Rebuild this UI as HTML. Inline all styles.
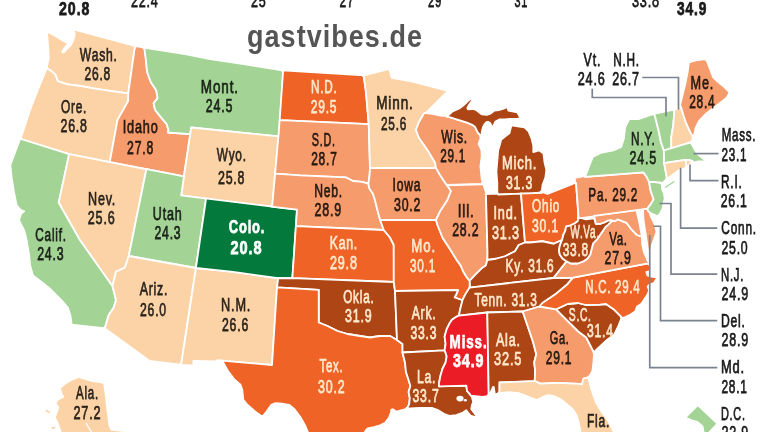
<!DOCTYPE html>
<html><head><meta charset="utf-8"><style>
html,body{margin:0;padding:0;background:#fff;width:768px;height:432px;overflow:hidden}
svg{display:block}
.st polygon{stroke:#fff;stroke-width:1.8;stroke-linejoin:round}
.ld{fill:none;stroke:#7b8390;stroke-width:1.7}
text{font-family:"Liberation Sans",Arial,sans-serif;font-size:18.5px;stroke-width:0.75px;letter-spacing:1.2px}
.wm{font-family:"Liberation Sans",Arial,sans-serif;font-weight:bold;fill:#555555}
</style></head><body>
<svg width="768" height="432" viewBox="0 0 768 432">
<rect width="768" height="432" fill="#fff"/>
<g class="st">
<polygon points="46.86,31.63 48.10,45.46 48.79,58.32 46.24,69.60 46.96,69.84 47.30,69.00 49.70,69.80 55.40,74.60 57.80,81.10 67.60,84.30 80.50,86.00 93.50,88.40 109.70,90.80 128.30,93.30 134.40,50.00 135.44,46.96 136.35,47.12 136.64,46.28 72.59,29.01 72.20,29.61 74.60,32.62 74.60,35.27 73.06,40.68 70.86,45.16 66.96,48.96 64.01,52.02 62.67,52.46 62.30,51.36 68.13,43.39 60.17,39.03 54.65,35.42" fill="#fcd3a6"/>
<polygon points="37.91,89.67 30.15,109.70 21.67,135.66 19.72,139.54 20.68,139.84 21.00,139.00 69.12,154.12 109.77,162.08 117.50,120.00 127.74,102.61 128.30,93.30 109.70,90.80 93.50,88.40 80.50,86.00 67.60,84.30 57.80,81.10 55.40,74.60 49.70,69.80 47.30,69.00 47.50,68.12 46.78,67.88" fill="#fcd3a6"/>
<polygon points="10.33,164.88 11.61,177.62 14.11,192.66 16.66,205.41 20.47,209.76 24.18,211.24 21.24,213.45 19.03,220.07 24.15,230.31 26.62,240.18 29.11,255.12 30.11,265.17 32.96,275.54 43.20,283.21 49.40,288.17 61.83,300.61 67.95,307.95 70.37,315.21 71.71,324.56 105.65,328.48 105.77,328.06 105.00,327.50 108.75,315.00 113.75,307.50 116.00,300.00 112.50,286.00 80.00,240.00 58.75,202.50 69.14,154.12 21.00,139.00 21.41,138.18 20.46,137.89" fill="#a3d496"/>
<polygon points="183.86,177.22 191.25,127.50 190.07,134.15 168.00,132.50 168.50,130.00 166.70,124.20 160.20,116.40 155.00,109.80 153.60,103.30 157.60,98.10 156.25,90.30 151.00,82.50 147.10,72.00 145.80,59.00 144.50,48.60 145.43,48.75 145.31,47.83 134.83,45.93 134.59,46.66 135.48,46.90 134.40,50.00 128.30,93.30 128.21,101.00 117.50,120.00 109.77,162.08 146.35,169.25 183.86,176.31 183.74,177.20" fill="#f59b6c"/>
<polygon points="143.57,48.43 144.50,48.60 145.80,59.00 147.10,72.00 151.00,82.50 156.25,90.30 157.60,98.10 153.60,103.30 155.00,109.80 160.20,116.40 166.70,124.20 168.50,130.00 168.00,132.50 190.07,134.15 191.25,127.50 278.41,136.32 278.33,137.21 278.56,137.23 280.12,120.19 280.55,120.18 280.12,120.16 283.12,71.28 284.02,71.33 284.08,70.52 235.14,62.86 210.16,59.11 185.16,54.11 143.46,47.52" fill="#a3d496"/>
<polygon points="206.00,199.38 206.04,199.06 273.06,206.83 272.17,206.71 275.20,173.56 276.01,173.62 275.23,173.56 278.72,135.44 278.57,135.43 278.50,136.32 191.25,127.50 183.86,176.31 181.20,195.39 206.05,198.94" fill="#fcd3a6"/>
<polygon points="68.26,153.84 69.12,154.12 58.75,202.50 80.00,240.00 112.50,286.00 116.00,271.50 120.00,270.00 125.00,267.50 128.75,256.00 146.35,169.25 147.24,169.42 147.26,169.32 109.75,162.17 69.37,154.19" fill="#fcd3a6"/>
<polygon points="145.47,169.08 146.35,169.25 128.75,256.00 195.90,268.00 195.84,268.41 195.90,268.00 206.04,199.06 206.93,199.16 207.01,198.59 181.16,195.38 184.12,175.44 184.00,175.41 183.86,176.31 145.49,168.98" fill="#a3d496"/>
<polygon points="103.95,327.85 149.66,360.86 182.01,365.00 182.15,364.04 181.25,364.00 195.90,268.00 128.75,256.00 125.00,267.50 120.00,270.00 116.00,271.50 112.50,286.00 116.00,300.00 113.75,307.50 108.75,315.00 105.00,327.50 104.09,327.40" fill="#fcd3a6"/>
<polygon points="195.01,267.84 195.90,268.00 192.58,290.01 181.25,364.00 180.36,363.89 180.21,364.85 193.40,365.44 193.40,360.91 218.45,361.30 223.93,361.77 223.50,360.99 218.50,360.40 272.00,365.00 277.01,287.36 277.92,287.42 277.03,287.34 278.20,278.26 279.10,278.25 278.19,278.26 233.00,271.90 195.90,268.00" fill="#fcd3a6"/>
<polygon points="205.17,198.82 206.05,198.94 195.90,268.00 233.00,271.90 278.19,278.26 278.08,279.15 278.20,278.26 292.36,278.19 295.95,226.16 297.00,209.60 272.17,206.71 272.25,205.83 272.17,206.70 205.24,198.37" fill="#037a3c"/>
<polygon points="282.23,71.14 283.12,71.28 279.59,121.03 280.04,121.05 280.12,120.19 368.73,124.15 366.00,92.50 363.75,76.25 364.63,76.03 364.54,75.40 282.28,70.32" fill="#ef6426"/>
<polygon points="277.74,136.25 278.41,136.32 275.03,174.45 275.11,174.45 275.20,173.56 300.00,175.30 345.60,177.30 352.90,181.00 362.00,181.80 368.40,183.70 369.50,176.00 370.00,168.17 370.90,168.16 370.00,168.16 368.73,124.12 368.66,123.24 368.73,124.10 280.12,120.16 280.17,119.29 279.71,119.27 278.50,136.32" fill="#f59b6c"/>
<polygon points="271.27,206.62 297.00,209.60 295.82,227.05 295.89,227.06 295.95,226.16 383.75,230.00 380.18,219.95 378.40,213.80 374.70,199.20 372.90,193.70 369.30,188.20 368.40,183.70 362.00,181.80 352.90,181.00 345.60,177.30 300.00,175.30 275.23,173.56 275.31,172.67 275.19,172.66 272.17,206.70" fill="#f59b6c"/>
<polygon points="291.45,278.19 393.79,281.99 393.75,245.00 390.00,237.50 383.75,230.00 295.95,226.16 296.01,225.26 295.94,225.26 292.35,278.18" fill="#ef6426"/>
<polygon points="292.42,277.29 292.35,278.18 278.19,278.26 277.02,287.36 318.73,290.00 318.75,322.50 327.50,326.00 337.50,331.00 347.50,334.00 360.00,336.00 370.00,337.50 380.00,336.00 390.00,336.00 397.00,340.00 395.00,291.00 393.79,281.99 292.36,278.19" fill="#ae4514"/>
<polygon points="216.62,361.09 222.94,361.83 228.24,371.39 234.04,379.12 240.52,384.72 242.32,390.09 243.33,399.76 247.35,404.72 255.04,411.51 262.37,416.72 266.72,411.34 271.33,404.84 275.63,403.12 281.98,403.69 289.31,404.95 294.74,409.52 300.35,416.99 305.09,425.39 307.81,432.19 308.13,440.90 363.79,440.90 364.87,432.26 366.02,429.89 368.08,428.34 373.92,427.17 380.03,425.34 385.09,422.81 388.89,417.74 390.88,412.73 391.31,409.63 392.83,409.27 396.44,411.68 407.57,408.62 408.07,408.37 408.43,407.65 407.40,407.70 409.20,404.10 409.80,398.00 408.60,392.00 410.40,386.00 408.60,380.00 406.00,372.00 405.00,362.50 402.50,352.50 402.50,344.00 397.00,340.00 390.00,336.00 380.00,336.00 370.00,337.50 360.00,336.00 347.50,334.00 337.50,331.00 327.50,326.00 318.75,322.50 318.72,289.97 277.03,287.34 277.14,286.46 277.01,287.48 272.00,365.00 218.50,360.40 216.69,360.37" fill="#ef6426"/>
<polygon points="362.83,76.19 363.75,76.25 366.00,92.50 368.73,124.10 367.83,124.06 368.74,124.15 370.00,168.17 435.97,167.84 435.00,162.50 427.50,150.00 418.75,137.50 416.00,130.00 418.75,122.50 423.75,113.75 424.88,113.89 447.98,90.77 412.69,81.62 391.73,77.96 389.40,68.91 362.75,75.57" fill="#fcd3a6"/>
<polygon points="435.80,166.94 435.96,167.84 370.00,168.16 369.50,176.00 368.40,183.70 369.30,188.20 372.90,193.70 374.70,199.20 378.40,213.80 380.20,219.95 436.00,220.00 439.76,211.89 447.50,200.00 451.00,191.00 447.08,185.09 445.00,182.50 440.00,175.00 435.97,167.84" fill="#f59b6c"/>
<polygon points="380.20,219.96 383.75,230.00 390.00,237.50 393.75,245.00 393.79,282.00 395.00,291.00 458.00,290.20 456.70,293.30 454.60,297.50 462.49,300.27 462.45,300.42 464.33,296.11 469.18,288.21 469.63,287.63 469.73,281.22 469.82,280.64 469.71,280.75 468.68,279.71 466.40,276.70 463.00,271.00 460.80,265.60 456.70,260.00 450.44,249.77 443.41,239.34 437.50,225.00 436.00,220.00" fill="#ef6426"/>
<polygon points="462.76,299.41 462.49,300.27 454.60,297.50 456.70,293.30 458.00,290.20 395.00,291.00 397.00,340.00 402.50,344.00 402.50,352.50 444.63,350.45 444.60,350.00 445.60,343.75 444.60,336.50 446.70,329.20 449.80,322.90 451.90,319.80 458.19,315.80 458.97,315.54 459.68,311.45 462.34,300.67 462.87,299.45" fill="#ae4514"/>
<polygon points="405.91,408.68 419.52,408.00 432.44,408.00 437.41,409.81 443.91,413.81 449.38,415.81 456.21,415.18 462.92,412.50 466.21,410.31 470.47,415.68 476.78,417.51 477.17,416.95 471.25,408.88 471.87,405.45 473.25,401.95 471.26,394.80 470.30,394.70 467.00,390.80 466.40,385.60 439.00,386.30 439.00,382.40 439.40,381.25 440.40,376.00 442.50,368.75 445.60,362.50 446.70,356.25 444.60,350.00 444.63,350.45 402.50,352.50 405.00,362.50 406.00,372.00 408.60,380.00 410.40,386.00 408.60,392.00 409.80,398.00 409.20,404.10 407.40,407.70 406.21,408.06" fill="#ae4514"/>
<polygon points="435.05,167.84 435.97,167.84 440.00,175.00 445.00,182.50 447.56,186.12 447.76,186.12 446.96,184.91 482.14,183.83 482.65,185.34 483.53,185.33 481.69,179.03 480.41,166.41 481.70,156.24 481.39,149.77 478.48,143.95 479.85,140.30 481.52,135.41 480.64,134.37 480.50,135.60 477.70,132.30 475.00,126.80 471.70,124.60 466.30,122.40 448.07,116.73 448.85,116.02 448.73,115.98 440.12,115.51 433.90,114.11 424.56,112.94 423.75,113.75 418.75,122.50 416.00,130.00 418.75,137.50 427.50,150.00 435.00,162.50 435.96,167.84" fill="#f59b6c"/>
<polygon points="480.83,137.38 481.22,137.26 481.89,131.36 482.95,127.12 484.53,124.05 486.46,122.20 487.98,121.77 490.21,123.04 492.37,127.50 492.68,127.50 495.39,121.46 499.31,119.50 504.64,119.50 510.04,119.00 516.70,119.00 520.80,118.09 518.96,115.42 517.17,112.28 513.46,111.71 508.49,110.72 507.22,106.91 504.26,108.46 498.91,110.12 494.34,110.64 490.94,113.41 486.88,114.98 481.95,114.43 476.53,110.19 472.91,108.99 467.93,109.45 467.30,108.19 468.67,105.37 474.02,98.08 473.14,97.19 467.82,101.01 463.51,105.32 459.25,108.51 452.60,111.33 446.70,116.77 448.57,116.87 466.30,122.40 471.70,124.60 475.00,126.80 477.70,132.30 480.50,135.60 480.16,136.59" fill="#ae4514"/>
<polygon points="509.41,133.17 505.95,135.79 501.10,139.69 500.13,143.67 498.21,150.23 496.40,171.70 497.30,182.84 497.33,194.57 532.51,193.29 540.67,192.34 543.67,193.50 543.81,192.76 541.69,191.83 542.58,184.92 545.38,177.52 546.31,169.85 544.49,162.24 543.45,153.61 539.06,150.29 535.84,151.44 533.30,152.05 533.30,145.69 531.46,138.11 528.56,131.39 524.52,127.35 517.74,126.41 511.44,125.26" fill="#ae4514"/>
<polygon points="488.30,259.86 487.40,259.99 487.50,252.50 486.00,195.00 486.90,194.97 486.89,194.46 486.60,194.30 482.79,182.91 481.89,182.94 482.33,184.45 447.19,185.23 446.23,184.03 446.08,184.04 451.00,191.00 447.50,200.00 440.61,210.39 436.00,220.00 437.50,225.00 442.44,237.50 449.30,248.02 456.70,260.00 460.80,265.60 463.00,271.00 466.40,276.70 469.17,280.21 469.81,280.71 474.70,275.30 481.70,268.30 485.80,265.60 487.40,259.99" fill="#f59b6c"/>
<polygon points="521.90,193.64 498.23,194.48 498.23,193.64 485.59,194.11 485.86,194.92 486.00,195.00 487.50,252.50 487.40,259.99 496.00,258.75 505.00,256.25 515.00,251.25 518.75,245.00 525.00,242.50 521.00,193.69" fill="#ae4514"/>
<polygon points="520.10,193.70 521.00,193.69 525.00,242.50 530.00,242.50 542.50,241.25 553.75,243.75 561.94,240.06 562.45,238.82 563.20,235.00 565.30,230.80 566.00,226.70 570.80,225.30 575.00,223.20 577.80,221.10 578.37,215.42 575.98,181.98 572.11,184.19 547.50,194.03 540.83,191.43 540.71,192.38 541.95,192.92" fill="#ef6426"/>
<polygon points="487.41,259.08 487.40,259.99 485.80,265.60 481.70,268.30 474.70,275.30 469.77,280.68 470.03,287.08 469.63,287.62 553.50,278.00 566.70,261.40 562.50,258.60 559.70,254.40 559.00,250.30 559.70,246.10 561.94,240.06 553.75,243.75 542.50,241.25 530.00,242.50 525.00,242.50 518.75,245.00 515.00,251.25 505.00,256.25 496.00,258.75 487.40,259.99" fill="#ae4514"/>
<polygon points="522.70,311.50 539.40,306.50 542.50,303.00 555.00,294.60 567.50,284.20 573.00,277.60 553.50,278.00 469.63,287.62 469.08,288.37 465.52,294.02 462.68,299.57 459.99,309.99 458.96,315.54 487.30,312.50" fill="#ae4514"/>
<polygon points="482.52,396.91 489.66,395.77 489.61,392.48 488.91,394.05 488.75,395.00 487.30,312.50 458.97,315.54 459.06,314.98 458.96,315.56 455.96,316.93 451.90,319.80 449.80,322.90 446.70,329.20 444.60,336.50 445.60,343.75 444.60,350.00 446.70,356.25 445.60,362.50 442.50,368.75 440.40,376.00 439.40,381.25 439.00,382.40 439.00,386.30 466.40,385.60 467.00,390.80 470.30,394.70 470.56,395.63" fill="#ec1c27"/>
<polygon points="487.88,396.74 489.36,396.85 489.78,394.31 493.08,386.90 493.73,386.90 494.86,394.32 500.40,392.91 500.40,392.11 499.50,392.20 499.51,382.50 534.71,381.04 535.20,370.80 534.20,362.50 536.25,354.20 533.00,341.70 522.70,311.50 487.30,312.50 488.75,395.00 487.85,395.14" fill="#ae4514"/>
<polygon points="533.80,381.08 534.73,381.04 540.49,383.67 558.07,382.80 580.00,383.89 581.81,384.58 583.50,378.60 587.40,377.60 587.62,378.47 587.98,378.38 592.37,371.10 593.40,362.59 594.28,351.18 594.03,350.69 593.35,351.33 586.25,337.50 578.00,331.25 563.30,316.70 556.21,309.56 556.21,309.29 556.20,309.45 539.40,306.50 522.70,311.50 533.00,341.70 536.25,354.20 534.20,362.50 535.20,370.80 534.70,381.03" fill="#f59b6c"/>
<polygon points="498.60,393.19 509.30,392.15 518.79,393.08 528.48,396.94 536.65,399.98 542.84,396.94 548.47,395.12 553.92,396.07 561.50,399.76 567.32,404.69 573.05,409.39 576.86,416.05 578.73,422.71 580.70,432.12 581.14,440.90 615.05,440.90 613.67,431.72 607.77,420.02 601.85,412.19 596.02,402.61 591.16,389.04 588.06,376.51 587.40,377.60 583.50,378.60 581.85,384.46 579.55,383.81 558.10,382.80 540.28,383.63 534.70,381.03 499.51,382.48 499.50,392.21 498.60,392.44" fill="#fcd3a6"/>
<polygon points="605.58,341.09 614.01,334.79 618.32,326.17 622.07,316.70 621.10,316.70 613.60,309.20 606.00,304.00 600.00,304.70 586.00,305.00 578.00,303.00 567.50,304.00 556.21,309.29 556.20,309.45 563.30,316.70 578.00,331.25 586.25,337.50 593.37,351.36 593.27,352.63" fill="#ae4514"/>
<polygon points="624.31,317.60 630.55,314.48 635.36,311.28 636.85,306.78 641.35,303.85 647.50,294.62 649.17,290.40 647.71,286.71 648.80,285.12 654.13,282.81 657.14,277.61 651.41,276.72 647.41,275.39 646.33,272.15 650.75,270.58 648.89,262.25 648.01,262.42 648.20,263.30 573.00,277.60 567.50,284.20 555.00,294.60 542.50,303.00 539.40,306.50 556.21,309.47 556.21,309.29 567.50,304.00 578.00,303.00 586.00,305.00 600.00,304.70 606.00,304.00 613.60,309.20 621.10,316.70 620.74,317.60" fill="#ef6426"/>
<polygon points="649.28,264.01 647.81,257.52 647.30,259.20 642.10,236.70 636.90,235.00 631.70,229.70 626.50,222.80 617.80,219.30 615.30,221.10 614.39,221.15 613.43,220.81 612.27,220.63 608.30,224.60 605.60,226.70 597.20,239.20 593.10,243.30 590.30,254.40 587.50,258.60 583.30,261.40 577.80,263.50 570.80,263.50 566.70,261.40 553.50,278.00 573.00,277.60 648.20,263.30 648.40,264.18" fill="#f59b6c"/>
<polygon points="594.91,215.40 593.13,215.63 593.51,218.28 586.16,219.48 579.45,217.54 579.44,217.40 578.52,217.52 578.37,215.42 577.80,221.10 575.00,223.20 570.80,225.30 566.00,226.70 565.30,230.80 563.20,235.00 562.15,239.96 561.80,240.40 559.70,246.10 559.00,250.30 559.70,254.40 562.50,258.60 566.70,261.40 570.80,263.50 577.80,263.50 583.30,261.40 587.50,258.60 590.30,254.40 593.10,243.30 597.20,239.20 605.60,226.70 608.30,224.60 612.27,220.63 613.43,220.81 611.49,220.11 608.30,220.40 604.20,222.50 600.00,223.90 595.80,223.90 594.06,215.71 594.27,215.94 595.00,215.84" fill="#ae4514"/>
<polygon points="593.87,219.14 594.53,219.03 594.06,215.71 595.80,223.90 600.00,223.90 604.20,222.50 608.30,220.40 611.49,220.11 613.43,220.81 615.30,221.10 617.80,219.30 626.50,222.80 631.70,229.70 636.90,235.00 642.10,236.70 645.51,251.93 647.69,260.99 650.37,252.23 651.87,245.24 656.54,231.74 654.55,223.99 650.84,216.46 648.96,210.65 647.76,209.87 647.54,208.47 647.47,208.58 593.12,215.63" fill="#f59b6c"/>
<polygon points="636.50,210.80 643.00,210.50 643.50,220.00 645.00,230.00 646.50,240.00 648.00,250.00 649.50,259.00 647.30,259.50 643.90,252.30 642.10,243.60 642.10,236.70 641.00,232.00 640.00,226.00 638.60,219.30" fill="#fff" stroke="none"/>
<polygon points="575.19,183.47 576.05,182.98 578.41,214.93 578.56,217.74 578.48,218.19 579.05,218.36 594.15,216.40 594.06,215.71 594.27,215.94 647.47,208.58 647.70,209.45 647.51,208.22 651.86,202.56 653.66,198.94 651.77,194.14 650.04,188.53 649.13,181.65 650.05,181.71 649.12,181.64 646.29,176.36 643.50,172.40 585.97,176.88 586.33,175.95 584.28,176.11 574.80,177.97" fill="#f59b6c"/>
<polygon points="652.25,213.88 657.28,216.40 660.03,213.64 662.46,209.00 663.58,203.30 664.71,198.75 664.08,193.97 661.90,188.52 661.74,182.28 661.18,182.73 659.89,182.50 649.12,181.64 648.62,180.71 648.55,180.70 649.17,181.91 650.52,190.55 653.65,199.26 650.19,204.93 647.47,208.58 647.76,209.85 648.20,211.23" fill="#a3d496"/>
<polygon points="661.43,183.69 667.89,178.45 667.71,177.43 666.90,178.02 664.09,163.15 664.99,163.01 664.10,163.15 663.89,150.48 663.83,150.49 660.80,141.70 658.75,131.25 654.60,114.60 655.48,114.41 655.24,113.44 638.35,119.10 629.19,119.10 625.12,127.24 623.87,138.56 621.26,146.84 613.23,150.39 600.71,152.89 592.79,156.85 584.97,176.96 643.50,172.40 646.46,176.63 649.15,181.88 649.13,181.65 659.90,182.50 660.85,182.66 660.87,183.59" fill="#a3d496"/>
<polyline points="665.00,187.50 674.40,181.50" fill="none" stroke="#a3d496" stroke-width="1.4"/>
<polygon points="653.74,114.89 654.60,114.60 658.75,131.25 660.80,141.70 663.83,150.49 671.25,148.30 671.25,137.50 673.30,125.00 674.40,110.40 675.32,110.19 675.39,109.27 653.50,113.91" fill="#a3d496"/>
<polygon points="673.48,110.59 674.40,110.40 673.30,125.00 671.25,137.50 671.25,148.30 690.00,142.70 689.73,142.85 690.20,143.58 690.64,143.45 693.97,136.45 693.19,135.25 692.93,136.51 690.80,133.25 687.62,126.82 680.60,107.10 681.13,104.81 677.81,108.69 673.55,109.67" fill="#fcd3a6"/>
<polygon points="687.61,72.35 685.12,84.80 681.38,99.79 679.66,107.15 679.85,107.69 680.96,106.40 683.21,114.57 686.04,122.95 690.80,133.25 692.94,136.52 692.48,137.47 693.04,138.32 693.50,138.23 695.61,127.80 699.24,120.53 706.59,113.18 716.55,105.71 726.70,97.59 729.62,92.34 724.10,86.83 717.85,81.83 713.02,77.00 706.77,60.75 705.07,59.05 695.81,60.37 688.94,62.29" fill="#f59b6c"/>
<polygon points="685.58,160.83 685.37,159.91 689.89,160.27 691.40,160.76 690.85,161.43 695.04,162.44 698.45,161.30 706.24,161.30 706.47,160.29 702.99,158.64 696.72,153.43 693.78,147.56 691.01,143.18 691.94,142.67 691.39,141.35 690.52,141.61 690.00,142.70 663.89,150.48 664.10,163.15 685.33,159.92" fill="#a3d496"/>
<polygon points="666.27,179.59 680.00,169.57 687.97,167.33 687.54,165.47 686.93,166.22 686.90,166.70 685.37,159.91 664.10,163.15 666.91,178.09 666.12,178.73" fill="#fcd3a6"/>
<polygon points="684.48,160.05 685.33,159.92 686.90,166.70 686.03,166.94 686.39,168.55 687.70,168.44 687.81,166.56 692.46,160.89 690.15,160.34 685.30,159.90" fill="#fcd3a6"/>
<polygon points="71.21,379.99 66.08,382.86 59.75,388.42 61.47,393.35 63.20,396.89 58.11,399.39 55.39,402.97 58.41,407.44 57.15,411.30 54.82,417.35 57.86,423.44 60.69,432.11 60.03,440.90 131.56,440.90 131.59,440.85 125.53,431.14 114.12,430.11 110.97,429.51 109.08,424.30 108.39,417.20 106.89,405.79 105.49,392.89 103.99,382.82 90.51,380.62 78.76,376.95" fill="#fcd3a6"/>
<polygon points="685.23,417.60 692.31,420.66 697.09,421.83 702.48,426.10 703.84,433.90 707.89,433.90 717.47,423.56 697.78,405.05" fill="#a3d496"/>
<ellipse cx="48" cy="411.5" rx="2.6" ry="1" transform="rotate(30 48 411.5)" fill="#fcd3a6" stroke="none"/>
<ellipse cx="53.5" cy="427.8" rx="2.2" ry="1" fill="#fcd3a6" stroke="none"/>
<polyline points="86,423 89,428 91.5,432" fill="none" stroke="#fff" stroke-width="1.3"/>
<ellipse cx="460" cy="398.6" rx="3.6" ry="2.8" fill="#fff" stroke="none"/>
<ellipse cx="465.3" cy="400.2" rx="1.6" ry="1.3" fill="#fff" stroke="none"/>
<polyline points="592.25,88.75 592.25,97.50 666.00,97.50 666.00,116.25" class="ld"/>
<polyline points="642.25,77.50 678.50,77.50 678.50,109.40" class="ld"/>
<polyline points="693.50,153.60 718.50,153.60" class="ld"/>
<polyline points="690.00,164.60 690.00,180.70 718.50,180.70" class="ld"/>
<polyline points="680.60,167.70 680.60,228.20 717.25,228.20" class="ld"/>
<polyline points="659.50,203.50 671.00,203.50 671.00,274.20 717.25,274.20" class="ld"/>
<polyline points="653.50,226.25 660.50,226.25 660.50,320.60 717.25,320.60" class="ld"/>
<polyline points="649.75,235.00 649.75,367.60 717.25,367.60" class="ld"/>
</g>
<g>
<text x="79.84" y="60.54" textLength="37.89" lengthAdjust="spacingAndGlyphs" fill="#000" stroke="#000" opacity="0.84">Wash.</text>
<text x="84.49" y="79.54" textLength="26.56" lengthAdjust="spacingAndGlyphs" fill="#000" stroke="#000" opacity="0.84">26.8</text>
<text x="60.94" y="112.54" textLength="26.26" lengthAdjust="spacingAndGlyphs" fill="#000" stroke="#000" opacity="0.84">Ore.</text>
<text x="60.48" y="131.54" textLength="27.35" lengthAdjust="spacingAndGlyphs" fill="#000" stroke="#000" opacity="0.84">26.8</text>
<text x="122.64" y="133.04" textLength="35.92" lengthAdjust="spacingAndGlyphs" fill="#000" stroke="#000" opacity="0.84">Idaho</text>
<text x="127.05" y="153.54" textLength="26.95" lengthAdjust="spacingAndGlyphs" fill="#000" stroke="#000" opacity="0.84">27.8</text>
<text x="200.87" y="92.54" textLength="38.07" lengthAdjust="spacingAndGlyphs" fill="#000" stroke="#000" opacity="0.84">Mont.</text>
<text x="205.77" y="111.54" textLength="27.50" lengthAdjust="spacingAndGlyphs" fill="#000" stroke="#000" opacity="0.84">24.5</text>
<text x="311.00" y="92.54" textLength="26.50" lengthAdjust="spacingAndGlyphs" fill="#fde8cc" stroke="#fde8cc">N.D.</text>
<text x="310.79" y="113.04" textLength="26.46" lengthAdjust="spacingAndGlyphs" fill="#fde8cc" stroke="#fde8cc">29.5</text>
<text x="376.22" y="109.04" textLength="37.45" lengthAdjust="spacingAndGlyphs" fill="#000" stroke="#000" opacity="0.84">Minn.</text>
<text x="381.05" y="129.54" textLength="26.02" lengthAdjust="spacingAndGlyphs" fill="#000" stroke="#000" opacity="0.84">25.6</text>
<text x="311.83" y="145.54" textLength="23.75" lengthAdjust="spacingAndGlyphs" fill="#000" stroke="#000" opacity="0.84">S.D.</text>
<text x="311.19" y="165.04" textLength="26.40" lengthAdjust="spacingAndGlyphs" fill="#000" stroke="#000" opacity="0.84">28.7</text>
<text x="216.84" y="160.94" textLength="29.91" lengthAdjust="spacingAndGlyphs" fill="#000" stroke="#000" opacity="0.84">Wyo.</text>
<text x="217.96" y="184.04" textLength="27.37" lengthAdjust="spacingAndGlyphs" fill="#000" stroke="#000" opacity="0.84">25.8</text>
<text x="314.19" y="196.54" textLength="28.79" lengthAdjust="spacingAndGlyphs" fill="#000" stroke="#000" opacity="0.84">Neb.</text>
<text x="314.47" y="215.54" textLength="27.45" lengthAdjust="spacingAndGlyphs" fill="#000" stroke="#000" opacity="0.84">28.9</text>
<text x="88.01" y="204.54" textLength="28.17" lengthAdjust="spacingAndGlyphs" fill="#000" stroke="#000" opacity="0.84">Nev.</text>
<text x="87.82" y="223.54" textLength="27.68" lengthAdjust="spacingAndGlyphs" fill="#000" stroke="#000" opacity="0.84">25.6</text>
<text x="152.78" y="219.54" textLength="29.72" lengthAdjust="spacingAndGlyphs" fill="#000" stroke="#000" opacity="0.84">Utah</text>
<text x="154.47" y="239.04" textLength="26.92" lengthAdjust="spacingAndGlyphs" fill="#000" stroke="#000" opacity="0.84">24.3</text>
<text x="35.33" y="240.54" textLength="31.49" lengthAdjust="spacingAndGlyphs" fill="#000" stroke="#000" opacity="0.84">Calif.</text>
<text x="37.14" y="260.04" textLength="27.29" lengthAdjust="spacingAndGlyphs" fill="#000" stroke="#000" opacity="0.84">24.3</text>
<text x="228.69" y="233.04" textLength="36.61" lengthAdjust="spacingAndGlyphs" fill="#ffffff" stroke="#ffffff" font-weight="bold">Colo.</text>
<text x="230.45" y="253.54" textLength="32.05" lengthAdjust="spacingAndGlyphs" fill="#ffffff" stroke="#ffffff" font-weight="bold">20.8</text>
<text x="329.75" y="248.54" textLength="28.29" lengthAdjust="spacingAndGlyphs" fill="#fde8cc" stroke="#fde8cc">Kan.</text>
<text x="329.96" y="269.04" textLength="27.76" lengthAdjust="spacingAndGlyphs" fill="#fde8cc" stroke="#fde8cc">29.8</text>
<text x="392.54" y="190.54" textLength="28.91" lengthAdjust="spacingAndGlyphs" fill="#000" stroke="#000" opacity="0.84">Iowa</text>
<text x="393.99" y="210.54" textLength="27.24" lengthAdjust="spacingAndGlyphs" fill="#000" stroke="#000" opacity="0.84">30.2</text>
<text x="441.18" y="142.54" textLength="26.79" lengthAdjust="spacingAndGlyphs" fill="#000" stroke="#000" opacity="0.84">Wis.</text>
<text x="440.15" y="162.04" textLength="25.90" lengthAdjust="spacingAndGlyphs" fill="#000" stroke="#000" opacity="0.84">29.1</text>
<text x="501.95" y="168.54" textLength="35.25" lengthAdjust="spacingAndGlyphs" fill="#fde8cc" stroke="#fde8cc">Mich.</text>
<text x="505.99" y="188.54" textLength="27.01" lengthAdjust="spacingAndGlyphs" fill="#fde8cc" stroke="#fde8cc">31.3</text>
<text x="457.81" y="217.04" textLength="16.75" lengthAdjust="spacingAndGlyphs" fill="#000" stroke="#000" opacity="0.84">Ill.</text>
<text x="452.14" y="236.04" textLength="27.20" lengthAdjust="spacingAndGlyphs" fill="#000" stroke="#000" opacity="0.84">28.2</text>
<text x="493.42" y="218.54" textLength="24.45" lengthAdjust="spacingAndGlyphs" fill="#fde8cc" stroke="#fde8cc">Ind.</text>
<text x="491.99" y="238.54" textLength="27.86" lengthAdjust="spacingAndGlyphs" fill="#fde8cc" stroke="#fde8cc">31.3</text>
<text x="532.10" y="211.54" textLength="28.02" lengthAdjust="spacingAndGlyphs" fill="#fde8cc" stroke="#fde8cc">Ohio</text>
<text x="532.01" y="232.04" textLength="26.99" lengthAdjust="spacingAndGlyphs" fill="#fde8cc" stroke="#fde8cc">30.1</text>
<text x="588.30" y="200.54" textLength="49.76" lengthAdjust="spacingAndGlyphs" fill="#000" stroke="#000" opacity="0.84">Pa. 29.2</text>
<text x="631.01" y="144.54" textLength="24.49" lengthAdjust="spacingAndGlyphs" fill="#000" stroke="#000" opacity="0.84">N.Y.</text>
<text x="629.40" y="164.04" textLength="27.60" lengthAdjust="spacingAndGlyphs" fill="#000" stroke="#000" opacity="0.84">24.5</text>
<text x="583.56" y="65.54" textLength="17.60" lengthAdjust="spacingAndGlyphs" fill="#1a1a1a" stroke="#1a1a1a">Vt.</text>
<text x="613.20" y="65.54" textLength="26.68" lengthAdjust="spacingAndGlyphs" fill="#1a1a1a" stroke="#1a1a1a">N.H.</text>
<text x="577.76" y="85.04" textLength="27.95" lengthAdjust="spacingAndGlyphs" fill="#1a1a1a" stroke="#1a1a1a">24.6</text>
<text x="612.13" y="85.04" textLength="27.66" lengthAdjust="spacingAndGlyphs" fill="#1a1a1a" stroke="#1a1a1a">26.7</text>
<text x="690.59" y="88.54" textLength="23.58" lengthAdjust="spacingAndGlyphs" fill="#000" stroke="#000" opacity="0.84">Me.</text>
<text x="689.18" y="108.04" textLength="26.26" lengthAdjust="spacingAndGlyphs" fill="#000" stroke="#000" opacity="0.84">28.4</text>
<text x="721.70" y="141.04" textLength="34.62" lengthAdjust="spacingAndGlyphs" fill="#1a1a1a" stroke="#1a1a1a">Mass.</text>
<text x="721.49" y="161.04" textLength="25.79" lengthAdjust="spacingAndGlyphs" fill="#1a1a1a" stroke="#1a1a1a">23.1</text>
<text x="721.00" y="187.54" textLength="21.52" lengthAdjust="spacingAndGlyphs" fill="#1a1a1a" stroke="#1a1a1a">R.I.</text>
<text x="720.78" y="207.04" textLength="26.93" lengthAdjust="spacingAndGlyphs" fill="#1a1a1a" stroke="#1a1a1a">26.1</text>
<text x="721.31" y="234.04" textLength="35.53" lengthAdjust="spacingAndGlyphs" fill="#1a1a1a" stroke="#1a1a1a">Conn.</text>
<text x="721.42" y="253.54" textLength="27.08" lengthAdjust="spacingAndGlyphs" fill="#1a1a1a" stroke="#1a1a1a">25.0</text>
<text x="721.00" y="280.54" textLength="23.13" lengthAdjust="spacingAndGlyphs" fill="#1a1a1a" stroke="#1a1a1a">N.J.</text>
<text x="721.40" y="299.54" textLength="27.60" lengthAdjust="spacingAndGlyphs" fill="#1a1a1a" stroke="#1a1a1a">24.9</text>
<text x="721.00" y="326.54" textLength="24.74" lengthAdjust="spacingAndGlyphs" fill="#1a1a1a" stroke="#1a1a1a">Del.</text>
<text x="721.40" y="346.04" textLength="27.60" lengthAdjust="spacingAndGlyphs" fill="#1a1a1a" stroke="#1a1a1a">28.9</text>
<text x="720.91" y="373.04" textLength="24.05" lengthAdjust="spacingAndGlyphs" fill="#1a1a1a" stroke="#1a1a1a">Md.</text>
<text x="721.45" y="392.54" textLength="26.29" lengthAdjust="spacingAndGlyphs" fill="#1a1a1a" stroke="#1a1a1a">28.1</text>
<text x="721.00" y="420.04" textLength="24.70" lengthAdjust="spacingAndGlyphs" fill="#1a1a1a" stroke="#1a1a1a">D.C.</text>
<text x="721.40" y="439.04" textLength="27.60" lengthAdjust="spacingAndGlyphs" fill="#1a1a1a" stroke="#1a1a1a">22.9</text>
<text x="570.30" y="238.04" textLength="29.36" lengthAdjust="spacingAndGlyphs" fill="#fde8cc" stroke="#fde8cc">W.Va.</text>
<text x="562.66" y="255.59" textLength="26.33" lengthAdjust="spacingAndGlyphs" fill="#fde8cc" stroke="#fde8cc">33.8</text>
<text x="609.17" y="244.55" textLength="18.62" lengthAdjust="spacingAndGlyphs" fill="#000" stroke="#000" opacity="0.84">Va.</text>
<text x="604.47" y="264.04" textLength="27.29" lengthAdjust="spacingAndGlyphs" fill="#000" stroke="#000" opacity="0.84">27.9</text>
<text x="505.61" y="271.52" textLength="48.89" lengthAdjust="spacingAndGlyphs" fill="#fde8cc" stroke="#fde8cc">Ky. 31.6</text>
<text x="474.50" y="305.54" textLength="63.08" lengthAdjust="spacingAndGlyphs" fill="#fde8cc" stroke="#fde8cc">Tenn. 31.3</text>
<text x="585.24" y="293.04" textLength="55.15" lengthAdjust="spacingAndGlyphs" fill="#fde8cc" stroke="#fde8cc">N.C. 29.4</text>
<text x="568.86" y="320.62" textLength="22.69" lengthAdjust="spacingAndGlyphs" fill="#fde8cc" stroke="#fde8cc">S.C.</text>
<text x="587.00" y="336.54" textLength="26.74" lengthAdjust="spacingAndGlyphs" fill="#fde8cc" stroke="#fde8cc">31.4</text>
<text x="549.63" y="344.28" textLength="19.86" lengthAdjust="spacingAndGlyphs" fill="#000" stroke="#000" opacity="0.84">Ga.</text>
<text x="545.79" y="363.54" textLength="26.49" lengthAdjust="spacingAndGlyphs" fill="#000" stroke="#000" opacity="0.84">29.1</text>
<text x="495.92" y="346.04" textLength="24.86" lengthAdjust="spacingAndGlyphs" fill="#fde8cc" stroke="#fde8cc">Ala.</text>
<text x="494.07" y="365.04" textLength="28.13" lengthAdjust="spacingAndGlyphs" fill="#fde8cc" stroke="#fde8cc">32.5</text>
<text x="449.61" y="348.04" textLength="37.89" lengthAdjust="spacingAndGlyphs" fill="#ffffff" stroke="#ffffff" font-weight="bold">Miss.</text>
<text x="452.94" y="366.54" textLength="31.45" lengthAdjust="spacingAndGlyphs" fill="#ffffff" stroke="#ffffff" font-weight="bold">34.9</text>
<text x="417.00" y="382.54" textLength="19.25" lengthAdjust="spacingAndGlyphs" fill="#fde8cc" stroke="#fde8cc">La.</text>
<text x="412.53" y="402.05" textLength="26.97" lengthAdjust="spacingAndGlyphs" fill="#fde8cc" stroke="#fde8cc">33.7</text>
<text x="411.64" y="318.54" textLength="24.86" lengthAdjust="spacingAndGlyphs" fill="#fde8cc" stroke="#fde8cc">Ark.</text>
<text x="410.51" y="339.16" textLength="26.78" lengthAdjust="spacingAndGlyphs" fill="#fde8cc" stroke="#fde8cc">33.3</text>
<text x="343.19" y="302.55" textLength="31.31" lengthAdjust="spacingAndGlyphs" fill="#fde8cc" stroke="#fde8cc">Okla.</text>
<text x="344.99" y="322.04" textLength="27.43" lengthAdjust="spacingAndGlyphs" fill="#fde8cc" stroke="#fde8cc">31.9</text>
<text x="319.51" y="372.04" textLength="23.99" lengthAdjust="spacingAndGlyphs" fill="#fde8cc" stroke="#fde8cc">Tex.</text>
<text x="318.00" y="392.54" textLength="27.40" lengthAdjust="spacingAndGlyphs" fill="#fde8cc" stroke="#fde8cc">30.2</text>
<text x="411.36" y="251.54" textLength="24.60" lengthAdjust="spacingAndGlyphs" fill="#fde8cc" stroke="#fde8cc">Mo.</text>
<text x="410.03" y="272.04" textLength="25.97" lengthAdjust="spacingAndGlyphs" fill="#fde8cc" stroke="#fde8cc">30.1</text>
<text x="139.64" y="294.54" textLength="28.59" lengthAdjust="spacingAndGlyphs" fill="#000" stroke="#000" opacity="0.84">Ariz.</text>
<text x="139.97" y="315.54" textLength="26.98" lengthAdjust="spacingAndGlyphs" fill="#000" stroke="#000" opacity="0.84">26.0</text>
<text x="221.08" y="310.54" textLength="30.09" lengthAdjust="spacingAndGlyphs" fill="#000" stroke="#000" opacity="0.84">N.M.</text>
<text x="221.97" y="330.54" textLength="27.03" lengthAdjust="spacingAndGlyphs" fill="#000" stroke="#000" opacity="0.84">26.6</text>
<text x="76.11" y="399.04" textLength="22.73" lengthAdjust="spacingAndGlyphs" fill="#000" stroke="#000" opacity="0.84">Ala.</text>
<text x="73.46" y="418.54" textLength="27.99" lengthAdjust="spacingAndGlyphs" fill="#000" stroke="#000" opacity="0.84">27.2</text>
<text x="587.00" y="426.54" textLength="23.08" lengthAdjust="spacingAndGlyphs" fill="#000" stroke="#000" opacity="0.84">Fla.</text>
<text x="59.08" y="15.04" textLength="31.23" lengthAdjust="spacingAndGlyphs" fill="#1a1a1a" stroke="#1a1a1a" font-weight="bold">20.8</text>
<text x="130.97" y="7.39" textLength="27.65" lengthAdjust="spacingAndGlyphs" fill="#1a1a1a" stroke="#1a1a1a">22.4</text>
<text x="251.04" y="6.54" textLength="15.54" lengthAdjust="spacingAndGlyphs" fill="#1a1a1a" stroke="#1a1a1a">25</text>
<text x="339.43" y="6.54" textLength="14.92" lengthAdjust="spacingAndGlyphs" fill="#1a1a1a" stroke="#1a1a1a">27</text>
<text x="427.98" y="7.04" textLength="14.24" lengthAdjust="spacingAndGlyphs" fill="#1a1a1a" stroke="#1a1a1a">29</text>
<text x="514.52" y="6.54" textLength="13.48" lengthAdjust="spacingAndGlyphs" fill="#1a1a1a" stroke="#1a1a1a">31</text>
<text x="631.99" y="6.61" textLength="27.98" lengthAdjust="spacingAndGlyphs" fill="#1a1a1a" stroke="#1a1a1a">33.8</text>
<text x="677.01" y="15.04" textLength="30.33" lengthAdjust="spacingAndGlyphs" fill="#1a1a1a" stroke="#1a1a1a" font-weight="bold">34.9</text>
</g>
<text class="wm" x="247" y="46.6" textLength="176" lengthAdjust="spacingAndGlyphs" style="font-size:31px">gastvibes.de</text>
</svg>
</body></html>
